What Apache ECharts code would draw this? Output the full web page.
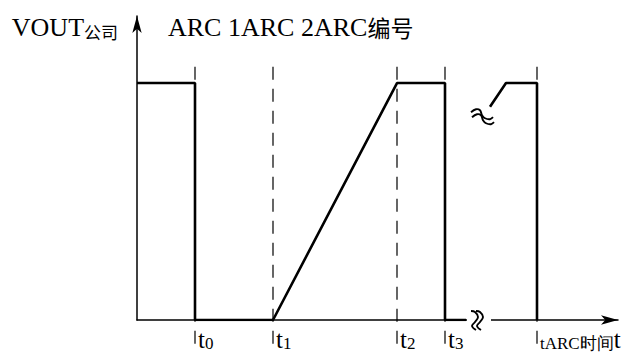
<!DOCTYPE html>
<html>
<head>
<meta charset="utf-8">
<script src="https://cdn.jsdelivr.net/npm/echarts@6/dist/echarts.min.js"></script>
<style>
  html, body { margin: 0; padding: 0; background: #fff; }
  #chart { width: 626px; height: 356px; }
</style>
</head>
<body>
<div id="chart"></div>
<script>
// Switching instants along the time axis
const edgeNames = ['0', '1', '2', '3'];
const edgeTimes = [58, 136, 260, 308];
const arcTime = 400;
const arcLabel = 'tARC时间';
const axisName = 't';

// Output voltage, normalised to the high level (1)
const waveBefore = [[0, 1], [58, 1], [58, 0], [136, 0], [260, 1], [308, 1], [308, 0], [329, 0]];
const waveAfter = [[353, 0.9], [369, 1], [400, 1], [400, 0]];

// Interrupted stretch of the time axis and the wave-break mark
const axisGap = [329, 355];
const waveBreak = [345, 0.86];

const titleText = 'ARC 1ARC 2ARC';
const titleCjk = '编号';
const yName = 'VOUT';
const yNameSub = '公司';

const SERIF = '"Liberation Serif", "Times New Roman", serif';
const CJK = '"Noto Sans CJK SC", sans-serif';

const chart = echarts.init(document.getElementById('chart'), null, { renderer: 'svg' });

const guideTimes = edgeTimes.concat([arcTime]);
const guides = guideTimes.map(t => ({
  type: 'line',
  data: [[t, -0.1], [t, 1.1]],
  clip: false,
  symbol: 'none',
  silent: true,
  z: 1,
  lineStyle: { color: '#000', width: 1.2, type: [13, 9] }
}));

chart.setOption({
  animation: false,
  backgroundColor: '#fff',
  title: {
    left: 168, top: 14, padding: 0,
    text: '{a|' + titleText + '}{b|' + titleCjk + '}',
    textStyle: {
      fontWeight: 'normal',
      rich: {
        a: { fontFamily: SERIF, fontSize: 26, fontWeight: 'normal', color: '#000' },
        b: { fontFamily: CJK, fontSize: 23, fontWeight: 'normal', color: '#000' }
      }
    }
  },
  grid: { left: 137, right: 8, top: 16, bottom: 36 },
  xAxis: {
    type: 'value', min: 0, max: 481,
    splitLine: { show: false },
    axisTick: { show: false },
    axisLine: {
      onZero: false,
      lineStyle: { color: '#000', width: 1.5 },
      symbol: ['none', 'arrow'], symbolSize: [7, 17]
    },
    axisLabel: {
      customValues: guideTimes,
      align: 'left', margin: 6,
      padding: [0, 0, 0, 3],
      formatter: v => {
        const i = edgeTimes.indexOf(v);
        if (i >= 0) return '{t|t}{s|' + edgeNames[i] + '}';
        return '{l|' + arcLabel + '}{t|' + axisName + '}';
      },
      rich: {
        t: { fontFamily: SERIF, fontSize: 25, color: '#000', lineHeight: 26, verticalAlign: 'bottom' },
        s: { fontFamily: SERIF, fontSize: 17, color: '#000', lineHeight: 22, verticalAlign: 'bottom' },
        l: { fontFamily: SERIF, fontSize: 17, color: '#000', lineHeight: 20, verticalAlign: 'bottom' }
      }
    }
  },
  yAxis: {
    type: 'value', min: 0, max: 1.283,
    splitLine: { show: false },
    axisTick: { show: false },
    axisLabel: { show: false },
    axisLine: {
      lineStyle: { color: '#000', width: 1.5 },
      symbol: ['none', 'arrow'], symbolSize: [7, 17]
    },
    name: '{a|' + yName + '}{b|' + yNameSub + '}',
    nameLocation: 'end',
    nameGap: -24,
    nameTextStyle: {
      align: 'right', verticalAlign: 'bottom',
      padding: [0, 19, 0, 0],
      rich: {
        a: { fontFamily: SERIF, fontSize: 26, color: '#000', lineHeight: 26, verticalAlign: 'bottom' },
        b: { fontFamily: CJK, fontSize: 17, color: '#000', lineHeight: 22, verticalAlign: 'bottom' }
      }
    }
  },
  series: guides.concat([
    {
      type: 'line', data: waveBefore, symbol: 'none', z: 3,
      lineStyle: { color: '#000', width: 2.6 }
    },
    {
      type: 'line', data: waveAfter, symbol: 'none', z: 3,
      lineStyle: { color: '#000', width: 2.6 }
    }
  ])
});

// Break marks: a blank in the time axis with a double squiggle, and a squiggle on the wave
const p0 = chart.convertToPixel({ gridIndex: 0 }, [axisGap[0], 0]);
const p1 = chart.convertToPixel({ gridIndex: 0 }, [axisGap[1], 0]);
const pw = chart.convertToPixel({ gridIndex: 0 }, waveBreak);
const cx = (p0[0] + p1[0]) / 2 - 2, cy = p0[1];

// one vertical S-stroke, relative to its centre
const sStroke = [[-4, -9], [0, -8], [3, -3], [0, 2], [-3, 6], [1, 10]];
// one stepped tilde stroke, relative to its centre
const stepStroke = [[-11, -1], [-6, -4], [-2, -3], [0, 2], [3, 5], [8, 6], [11, 4]];

const shift = (pts, dx, dy) => pts.map(p => [p[0] + dx, p[1] + dy]);
const strokeStyle = { stroke: '#000', lineWidth: 1.9, fill: 'none' };

chart.setOption({
  graphic: [
    {
      type: 'rect', z: 10,
      shape: { x: p0[0] + 1, y: p0[1] - 4, width: p1[0] - p0[0] - 2, height: 8 },
      style: { fill: '#fff' }
    },
    { type: 'polyline', z: 11, shape: { points: shift(sStroke, cx - 2, cy), smooth: 0.4 }, style: strokeStyle },
    { type: 'polyline', z: 11, shape: { points: shift(sStroke, cx + 3, cy), smooth: 0.4 }, style: strokeStyle },
    { type: 'polyline', z: 11, shape: { points: shift(stepStroke, pw[0], pw[1] - 3), smooth: 0.4 }, style: strokeStyle },
    { type: 'polyline', z: 11, shape: { points: shift(stepStroke, pw[0] + 1, pw[1] + 2), smooth: 0.4 }, style: strokeStyle }
  ]
});
</script>
</body>
</html>
